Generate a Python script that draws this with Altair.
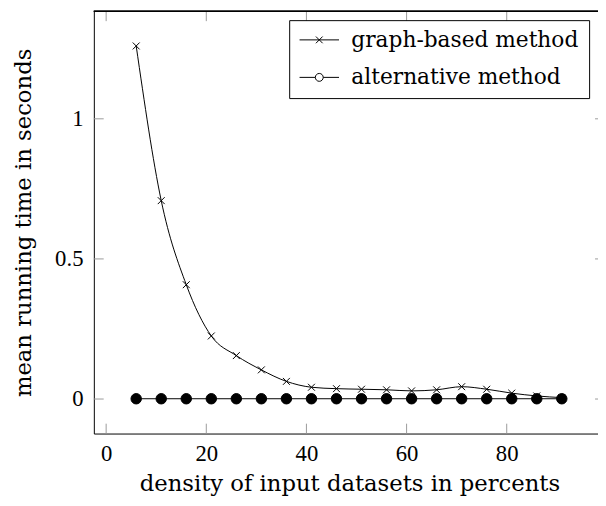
import altair as alt
import pandas as pd

# ---- data ----
density = [6, 11, 16, 21, 26, 31, 36, 41, 46, 51, 56, 61, 66, 71, 76, 81, 86, 91]
graph_based = [1.26, 0.708, 0.408, 0.225, 0.155, 0.104, 0.063, 0.042, 0.037, 0.035,
               0.033, 0.029, 0.033, 0.044, 0.035, 0.021, 0.011, 0.005]
alternative = [0.001, 0.001, 0.001, 0.001, 0.001, 0.001, 0.001, 0.001, 0.001, 0.001,
               0.001, 0.001, 0.001, 0.001, 0.001, 0.001, 0.001, 0.001]
series_names = ["graph-based method", "alternative method"]
x_ticks = [0, 20, 40, 60, 80]
y_ticks = [0, 0.5, 1]

LABEL_FONT = "Liberation Serif"
TEXT_FONT = "DejaVu Serif"
W, H = 511, 428
X_DOMAIN = [-2.46, 98.23]
Y_DOMAIN = [-0.1232, 1.3838]
TICK_GRAY = "#9a9a9a"

df = pd.DataFrame({
    "density": density * 2,
    "time": graph_based + alternative,
    "series": [series_names[0]] * len(density) + [series_names[1]] * len(density),
})
xt = pd.DataFrame({"t": x_ticks})
yt = pd.DataFrame({"t": y_ticks})

xscale = alt.Scale(domain=X_DOMAIN, nice=False, zero=False)
yscale = alt.Scale(domain=Y_DOMAIN, nice=False, zero=False)

x_enc = alt.X("density:Q", scale=xscale,
              axis=alt.Axis(values=x_ticks, format="d", titleX=259,
                            title="density of input datasets in percents"))
y_enc = alt.Y("time:Q", scale=yscale,
              axis=alt.Axis(values=y_ticks, format="~g",
                            title="mean running time in seconds"))

cross_path = "M-1,-1L1,1M-1,1L1,-1"
leg_cross = "M-1,0L1,0M-0.17,-0.17L0.17,0.17M-0.17,0.17L0.17,-0.17"
leg_circle = ("M-1,0L-0.2,0M0.2,0L1,0M0.2,0A0.2,0.2,0,1,1,-0.2,0"
              "A0.2,0.2,0,1,1,0.2,0Z")

base = alt.Chart(df)

lines = base.mark_line(
    color="black", strokeWidth=1, interpolate="monotone"
).encode(x=x_enc, y=y_enc, detail="series:N")

pts_graph = base.transform_filter(
    alt.datum.series == series_names[0]
).mark_point(shape=cross_path, size=49, stroke="black", strokeWidth=1,
             filled=False, opacity=1).encode(x=x_enc, y=y_enc)

pts_alt = base.transform_filter(
    alt.datum.series == series_names[1]
).mark_point(shape="circle", size=112, fill="black", stroke="black",
             strokeWidth=1, filled=True, opacity=1).encode(x=x_enc, y=y_enc)

# legend-only layer (no rows drawn; legend comes from the explicit shape domain)
legend_layer = base.transform_filter("false").mark_point(
    color="black", strokeWidth=1, filled=False, opacity=1, size=1600
).encode(
    x=x_enc, y=y_enc,
    shape=alt.Shape(
        "series:N",
        scale=alt.Scale(domain=series_names, range=[leg_cross, leg_circle]),
        legend=alt.Legend(
            title=None, orient="none", legendX=198, legendY=9,
            strokeColor="black", fillColor="white", cornerRadius=0, padding=10,
            symbolSize=1600, clipHeight=20, rowPadding=16, labelOffset=12,
            symbolStrokeWidth=1, symbolStrokeColor="black",
            symbolOpacity=1,
            labelFont=TEXT_FONT, labelFontSize=22, labelColor="black", labelLimit=400,
        ),
    ),
)

top_frame = alt.Chart(xt).mark_rule(color="black", strokeWidth=1).encode(
    x=alt.value(0), x2=alt.value(W), y=alt.value(0))

tick_bottom = alt.Chart(xt).mark_rule(color=TICK_GRAY, strokeWidth=1).encode(
    x=alt.X("t:Q", scale=xscale), y=alt.value(H), y2=alt.value(H - 10))
tick_top = alt.Chart(xt).mark_rule(color=TICK_GRAY, strokeWidth=1).encode(
    x=alt.X("t:Q", scale=xscale), y=alt.value(0), y2=alt.value(10))
tick_left = alt.Chart(yt).mark_rule(color=TICK_GRAY, strokeWidth=1).encode(
    y=alt.Y("t:Q", scale=yscale), x=alt.value(0), x2=alt.value(10))
tick_right = alt.Chart(yt).mark_rule(color=TICK_GRAY, strokeWidth=1).encode(
    y=alt.Y("t:Q", scale=yscale), x=alt.value(W - 3), x2=alt.value(W))

chart = alt.layer(
    tick_bottom, tick_top, tick_left, tick_right, top_frame,
    lines, pts_graph, pts_alt, legend_layer
).properties(
    width=W, height=H,
    padding={"left": 87, "top": 0, "right": 0, "bottom": 62},
    autosize=alt.AutoSizeParams(type="none"),
).configure_view(
    stroke=None
).configure_axis(
    domainColor="black", domainWidth=1, ticks=False, grid=False,
    labelFont=LABEL_FONT, labelFontSize=23, labelColor="black",
    titleFont=TEXT_FONT, titleFontSize=23, titleFontWeight="normal", titleColor="black",
).configure_axisX(
    labelPadding=9, titlePadding=8
).configure_axisY(
    labelPadding=11, titlePadding=19
)

chart.save("out.html", embed_options={"renderer": "svg", "actions": False})
